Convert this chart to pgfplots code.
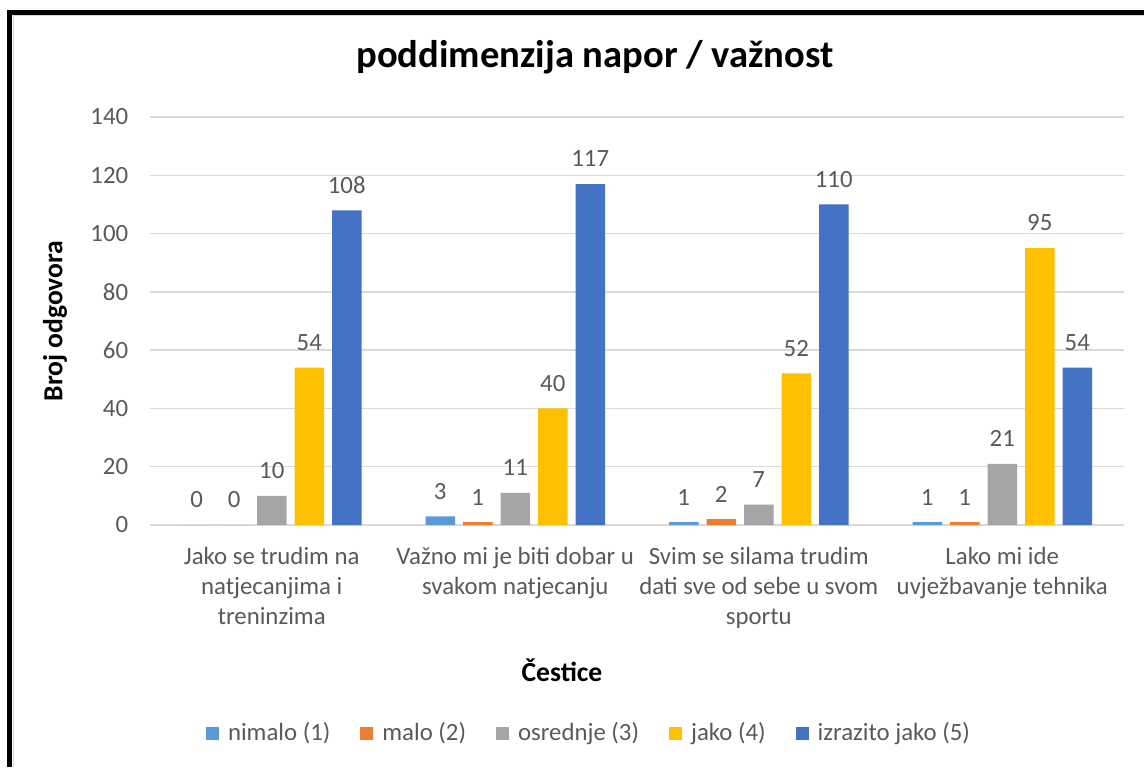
\documentclass[border=0pt]{standalone}
\usepackage{pgfplots}
\pgfplotsset{compat=1.18}
\usepackage{fontspec}
\setmainfont{Carlito}
\definecolor{c1}{HTML}{5B9BD5}
\definecolor{c2}{HTML}{ED7D31}
\definecolor{c3}{HTML}{A5A5A5}
\definecolor{c4}{HTML}{FFC000}
\definecolor{c5}{HTML}{4472C4}
\definecolor{txt}{HTML}{595959}
\definecolor{gridc}{HTML}{D9D9D9}
\begin{document}
\begin{tikzpicture}
\path[use as bounding box] (0,0) rectangle (572pt,-383.5pt);
\begin{axis}[
  at={(75pt,-262.5pt)}, anchor=south west,
  scale only axis, width=487pt, height=204pt,
  xmin=-0.5, xmax=3.5, ymin=0, ymax=140,
  enlargelimits=false,
  ybar=4pt, bar width=14.75pt,
  axis line style={draw=none},
  major tick length=0pt,
  ytick={0,20,...,140},
  xmajorgrids=false, ymajorgrids=true,
  major grid style={draw=gridc, line width=0.75pt},
  xtick={0,1,2,3},
  xticklabels={{Jako se trudim na\\natjecanjima i\\treninzima},
               {Važno mi je biti dobar u\\svakom natjecanju},
               {Svim se silama trudim\\dati sve od sebe u svom\\sportu},
               {Lako mi ide\\uvježbavanje tehnika}},
  xticklabel style={align=center, font=\fontsize{12.4}{15}\selectfont, text=txt, yshift=-7.5pt},
  yticklabel style={font=\fontsize{12.4}{15}\selectfont, text=txt, xshift=-7.4pt},
  /pgf/number format/assume math mode=true,
  nodes near coords,
  every node near coord/.append style={font=\fontsize{12.4}{15}\selectfont, text=txt, yshift=5pt},
  legend columns=5,
  legend style={at={(0.4517,-0.5098)}, anchor=center, draw=none, fill=none,
    font=\fontsize{12.4}{15}\selectfont, text=txt,
    /tikz/every even column/.append style={column sep=13pt},
    /tikz/every odd column/.append style={column sep=2.5pt}},
  legend image code/.code={\fill[#1] (0pt,-3.25pt) rectangle (6.5pt,3.25pt);},
]
\addplot[fill=c1, draw=none] coordinates {(0,0) (1,3) (2,1) (3,1)};
\addplot[fill=c2, draw=none] coordinates {(0,0) (1,1) (2,2) (3,1)};
\addplot[fill=c3, draw=none] coordinates {(0,10) (1,11) (2,7) (3,21)};
\addplot[fill=c4, draw=none] coordinates {(0,54) (1,40) (2,52) (3,95)};
\addplot[fill=c5, draw=none] coordinates {(0,108) (1,117) (2,110) (3,54)};
\legend{nimalo (1), malo (2), osrednje (3), jako (4), izrazito jako (5)}
\end{axis}
\node[font=\fontsize{19.3}{23}\selectfont\bfseries] at (297.5pt,-28.5pt) {poddimenzija napor / važnost};
\node[font=\fontsize{13.8}{16}\selectfont\bfseries, rotate=90] at (27.5pt,-160.5pt) {Broj odgovora};
\node[font=\fontsize{13.8}{16}\selectfont\bfseries] at (281pt,-335pt) {Čestice};
\draw[gridc, line width=0.75pt] (6.75pt,-383.5pt) -- (6.75pt,-7.5pt) -- (572pt,-7.5pt);
\draw[line width=2.5pt] (4.75pt,-383.5pt) -- (4.75pt,-6.25pt) -- (572pt,-6.25pt);
\end{tikzpicture}
\end{document}
